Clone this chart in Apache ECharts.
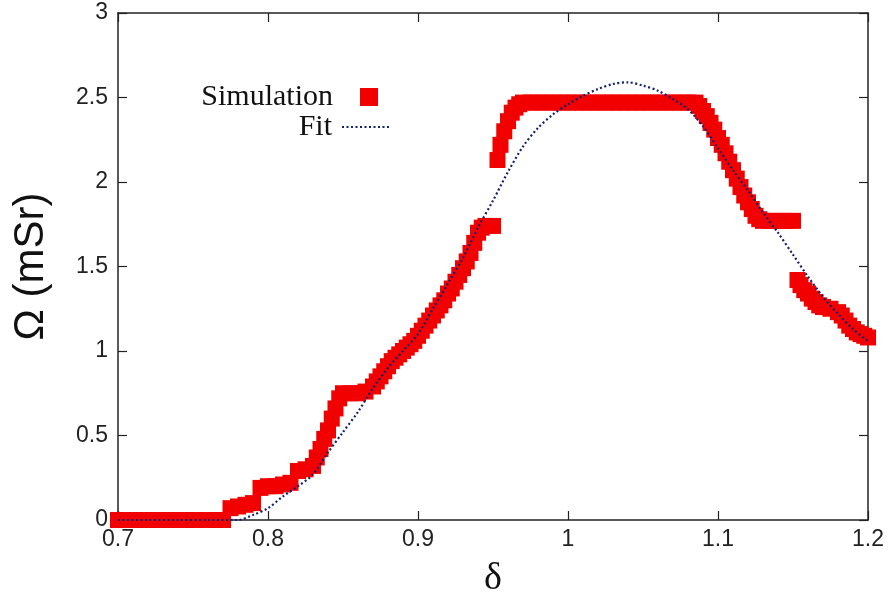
<!DOCTYPE html>
<html>
<head>
<meta charset="utf-8">
<script src="https://cdn.jsdelivr.net/npm/echarts@6/dist/echarts.min.js"></script>
<style>
html,body{margin:0;padding:0;background:#fff;}
#c{width:889px;height:604px;}
</style>
</head>
<body>
<div id="c"></div>
<script>
// ---- data ----
const simX = [
  0.700,0.705,0.710,0.715,0.720,0.725,0.730,0.735,0.740,0.745,0.750,0.755,0.760,0.765,0.770,
  0.775,0.780,0.785,0.790,0.795,0.800,0.805,0.810,0.815,0.820,0.825,0.830,0.8325,0.835,0.8375,
  0.840,0.8425,0.845,0.8475,0.850,0.855,0.860,0.865,0.870,0.8725,0.875,0.8775,0.880,0.8825,
  0.885,0.8875,0.890,0.8925,0.895,0.8975,0.900,0.9025,0.905,0.9075,0.910,0.9125,0.915,0.9175,
  0.920,0.9225,0.925,0.9275,0.930,0.9325,0.935,0.9375,0.940,0.9425,0.945,0.950,
  0.953,0.955,0.9575,0.960,0.9625,0.965,0.9675,0.970,
  0.975,0.980,0.985,0.990,0.995,1.000,1.005,1.010,1.015,1.020,1.025,1.030,1.035,1.040,1.045,
  1.050,1.055,1.060,1.065,1.070,1.075,1.080,1.085,
  1.0875,1.090,1.0925,1.095,1.0975,1.100,1.1025,1.105,1.1075,1.110,1.1125,1.115,1.1175,1.120,
  1.1225,1.125,1.1275,1.130,1.135,1.140,1.145,1.150,
  1.153,1.155,1.1575,1.160,1.1625,1.165,1.1675,1.170,1.175,1.180,1.1825,1.185,1.1875,1.190,
  1.1925,1.195,1.1975,1.200
];
const simY = [
  0,0,0,0,0,0,0,0,0,0,0,0,0,0,0,
  0.07,0.08,0.09,0.10,0.19,0.20,0.20,0.21,0.22,0.29,0.30,0.32,0.37,0.42,0.48,
  0.53,0.60,0.66,0.72,0.75,0.75,0.75,0.76,0.79,0.82,0.85,0.88,0.91,0.94,
  0.96,0.98,1.00,1.02,1.04,1.06,1.09,1.12,1.15,1.18,1.21,1.24,1.27,1.30,
  1.34,1.37,1.41,1.45,1.49,1.53,1.58,1.64,1.70,1.73,1.74,1.74,
  2.13,2.22,2.30,2.36,2.41,2.44,2.46,2.47,
  2.47,2.47,2.47,2.47,2.47,2.47,2.47,2.47,2.47,2.47,2.47,2.47,2.47,2.47,2.47,
  2.47,2.47,2.47,2.47,2.47,2.47,2.47,2.47,
  2.45,2.42,2.39,2.35,2.31,2.26,2.22,2.17,2.12,2.07,2.02,1.97,1.92,1.88,
  1.84,1.80,1.78,1.77,1.77,1.77,1.77,1.77,
  1.42,1.39,1.36,1.34,1.31,1.29,1.27,1.26,1.25,1.23,1.21,1.18,1.15,1.13,
  1.11,1.10,1.09,1.08
];
const fitX = [
  0.70,0.72,0.74,0.76,0.78,0.79,0.80,0.81,0.82,0.83,0.84,0.85,0.86,0.87,0.88,0.89,0.90,
  0.91,0.92,0.93,0.94,0.95,0.96,0.97,0.98,0.99,1.00,1.01,1.02,1.03,1.04,1.05,
  1.06,1.07,1.08,1.09,1.10,1.11,1.12,1.13,1.14,1.15,1.16,1.17,1.18,1.19,1.20
];
const fitY = [
  0,0,0,0,0.0,0.03,0.07,0.14,0.20,0.27,0.40,0.52,0.64,0.78,0.90,1.00,1.10,
  1.25,1.40,1.55,1.73,1.89,2.06,2.21,2.32,2.40,2.46,2.51,2.55,2.58,2.59,2.57,
  2.54,2.49,2.43,2.33,2.20,2.07,1.95,1.82,1.70,1.57,1.44,1.32,1.22,1.13,1.06
];
const xTickLabels = ['0.7','0.8','0.9','1','1.1','1.2'];
const yTickLabels = ['0','0.5','1','1.5','2','2.5','3'];
const seriesNames = ['Simulation','Fit'];
const xTitle = 'δ';
const yTitle = 'Ω (mSr)';

// ---- chart ----
const chart = echarts.init(document.getElementById('c'), null, {renderer:'canvas'});
const axisColor = '#222';
const sans = 'Liberation Sans, Arial, sans-serif';
const serif = 'Liberation Serif, Times New Roman, serif';

const baseX = {
  type:'value', min:0.7, max:1.2, interval:0.1,
  axisLine:{show:true, onZero:false, lineStyle:{color:axisColor, width:1.5}},
  axisTick:{show:true, inside:true, length:9, lineStyle:{color:axisColor, width:1.2}},
  splitLine:{show:false}
};
const baseY = {
  type:'value', min:0, max:3, interval:0.5,
  axisLine:{show:true, onZero:false, lineStyle:{color:axisColor, width:1.5}},
  axisTick:{show:true, inside:true, length:9, lineStyle:{color:axisColor, width:1.2}},
  splitLine:{show:false}
};

const option = {
  animation:false,
  backgroundColor:'#fff',
  grid:{left:118, right:21, top:13, bottom:84, containLabel:false},
  xAxis:[
    Object.assign({}, baseX, {
      position:'bottom',
      name:xTitle, nameLocation:'middle', nameGap:40,
      nameTextStyle:{fontFamily:serif, fontSize:38, color:'#111'},
      axisLabel:{show:true, margin:8, color:'#222', fontFamily:sans, fontSize:23,
        formatter:(v)=>xTickLabels[Math.round((v-0.7)/0.1)]}
    }),
    Object.assign({}, baseX, {position:'top', axisLabel:{show:false}})
  ],
  yAxis:[
    Object.assign({}, baseY, {
      position:'left',
      name:yTitle, nameLocation:'middle', nameGap:66, nameRotate:90,
      nameTextStyle:{fontFamily:sans, fontSize:42, color:'#111'},
      axisLabel:{show:true, margin:10, color:'#222', fontFamily:sans, fontSize:23,
        formatter:(v)=>yTickLabels[Math.round(v/0.5)]}
    }),
    Object.assign({}, baseY, {position:'right', axisLabel:{show:false}})
  ],
  legend:[
    {
      data:[{name:seriesNames[0], icon:'rect'}],
      orient:'vertical', align:'right', right:511, top:82, padding:0,
      itemWidth:18, itemHeight:18,
      textStyle:{fontFamily:serif, fontSize:30, color:'#111', padding:[0,22,0,0]},
      selectedMode:false
    },
    {
      data:[{name:seriesNames[1], itemStyle:{opacity:0}}],
      orient:'vertical', align:'right', right:497, top:112, padding:0,
      itemWidth:49, itemHeight:14,
      textStyle:{fontFamily:serif, fontSize:30, color:'#111', padding:[0,5,0,0]},
      selectedMode:false
    }
  ],
  series:[
    {
      name:seriesNames[0], type:'scatter', xAxisIndex:0, yAxisIndex:0,
      symbol:'rect', symbolSize:16,
      itemStyle:{color:'#f20000', opacity:1},
      data:simX.map((x,i)=>[x, simY[i]]),
      z:2
    },
    {
      name:seriesNames[1], type:'line', xAxisIndex:0, yAxisIndex:0,
      symbol:'none', smooth:0.3,
      lineStyle:{color:'#14226e', width:2.2, type:[2,2.5]},
      itemStyle:{color:'#14226e'},
      data:fitX.map((x,i)=>[x, fitY[i]]),
      z:3
    }
  ]
};
chart.setOption(option);
</script>
</body>
</html>
